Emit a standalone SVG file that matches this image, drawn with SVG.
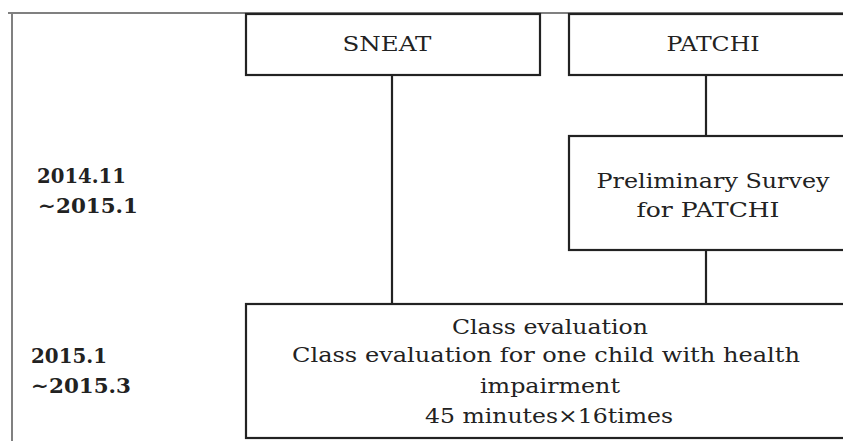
<svg xmlns="http://www.w3.org/2000/svg" width="843" height="441" viewBox="0 0 843 441">
<style>
.frame{stroke:#808080;stroke-width:2;fill:none}
.box{fill:#fff;stroke:#222;stroke-width:2.2}
.ln{stroke:#222;stroke-width:2.2;fill:none}
.lbl{font-family:'DejaVu Serif','Liberation Serif',serif;font-size:20.5px;text-anchor:middle;fill:#222}
.date{font-family:'DejaVu Serif','Liberation Serif',serif;font-size:21px;font-weight:bold;fill:#222}
</style>
<rect width="843" height="441" fill="#fff"/>
<path class="frame" d="M8,13 H843 M12,13 V441"/>
<g id="connectors">
<line class="ln" x1="392" y1="75" x2="392" y2="304"/>
<line class="ln" x1="706" y1="75" x2="706" y2="136"/>
<line class="ln" x1="706" y1="250" x2="706" y2="304"/>
</g>
<g id="date1">
<text class="date" x="37" y="183" textLength="89" lengthAdjust="spacingAndGlyphs">2014.11</text>
<text class="date" x="38" y="213" textLength="100" lengthAdjust="spacingAndGlyphs">∼2015.1</text>
</g>
<g id="date2">
<text class="date" x="31" y="363" textLength="76" lengthAdjust="spacingAndGlyphs">2015.1</text>
<text class="date" x="31" y="393" textLength="100" lengthAdjust="spacingAndGlyphs">∼2015.3</text>
</g>
<g id="sneat">
<rect class="box" x="246" y="14" width="294" height="61"/>
<text class="lbl" x="387" y="51" textLength="89" lengthAdjust="spacingAndGlyphs">SNEAT</text>
</g>
<g id="patchi">
<rect class="box" x="569" y="14" width="290" height="61"/>
<text class="lbl" x="713" y="51" textLength="93" lengthAdjust="spacingAndGlyphs">PATCHI</text>
</g>
<g id="preliminary">
<rect class="box" x="569" y="136" width="290" height="114"/>
<text class="lbl" x="713" y="188" textLength="233" lengthAdjust="spacingAndGlyphs">Preliminary Survey</text>
<text class="lbl" x="708" y="217" textLength="143" lengthAdjust="spacingAndGlyphs">for PATCHI</text>
</g>
<g id="class-eval">
<rect class="box" x="246" y="304" width="613" height="134"/>
<text class="lbl" x="550" y="334" textLength="196" lengthAdjust="spacingAndGlyphs">Class evaluation</text>
<text class="lbl" x="546" y="362" textLength="508" lengthAdjust="spacingAndGlyphs">Class evaluation for one child with health</text>
<text class="lbl" x="550" y="393" textLength="140" lengthAdjust="spacingAndGlyphs">impairment</text>
<text class="lbl" x="549" y="423" textLength="248" lengthAdjust="spacingAndGlyphs">45 minutes×16times</text>
</g>
</svg>
